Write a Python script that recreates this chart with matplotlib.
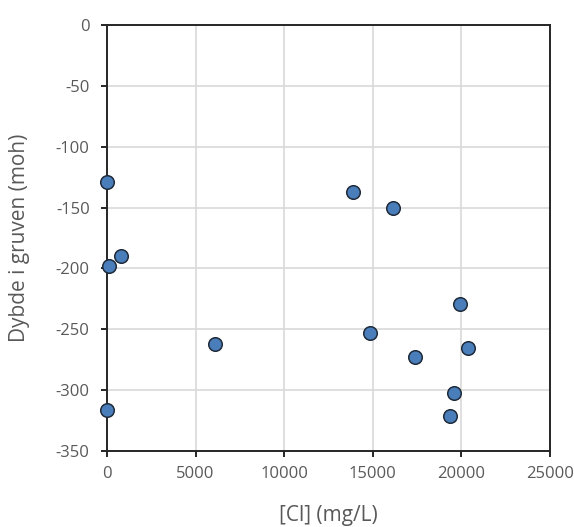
import matplotlib
matplotlib.use("Agg")
import matplotlib.pyplot as plt

cl = [0, 100, 770, 6100, 0, 13870, 16160, 19940, 14830, 20350, 17380, 19560, 19380]
depth = [-129, -198, -190, -262, -316, -137, -150, -229, -253, -265, -273, -302, -321]
xticks = [0, 5000, 10000, 15000, 20000, 25000]
yticks = [0, -50, -100, -150, -200, -250, -300, -350]

plt.rcParams['font.family'] = ['Open Sans', 'DejaVu Sans']
fig = plt.figure(figsize=(5.74, 5.27), dpi=100)
ax = fig.add_axes([107/574, 1-451/527, 443/574, 426/527])
ax.set_xlim(0, 25000)
ax.set_ylim(-350, 0)
ax.set_xticks(xticks)
ax.set_yticks(yticks)
ax.set_xticklabels([str(t) for t in xticks])
ax.set_yticklabels([str(t) for t in yticks])
ax.grid(True, color='#d9d9d9', linewidth=1.2)
ax.set_axisbelow(True)
for s in ax.spines.values():
    s.set_color('#262626')
    s.set_linewidth(1.4)
ax.tick_params(axis='both', direction='out', length=4.5, width=1.4, color='#262626',
               labelcolor='#595959', labelsize=12)
ax.tick_params(axis='y', pad=8)
ax.tick_params(axis='x', pad=6)
ax.scatter(cl, depth, s=95, facecolor='#4a7ebb', edgecolor='#1f2a3a', linewidth=1.1, zorder=3, clip_on=False)
ax.set_xlabel('[Cl] (mg/L)', color='#595959', fontsize=15)
ax.set_ylabel('Dybde i gruven (moh)', color='#595959', fontsize=15)
ax.xaxis.set_label_coords(0.5, (451-515)/426, transform=ax.transAxes)
ax.yaxis.set_label_coords((20-107)/443, 0.5, transform=ax.transAxes)
ax.xaxis.label.set_va('center')
ax.yaxis.label.set_va('center')
fig.savefig('out.png', dpi=100)
